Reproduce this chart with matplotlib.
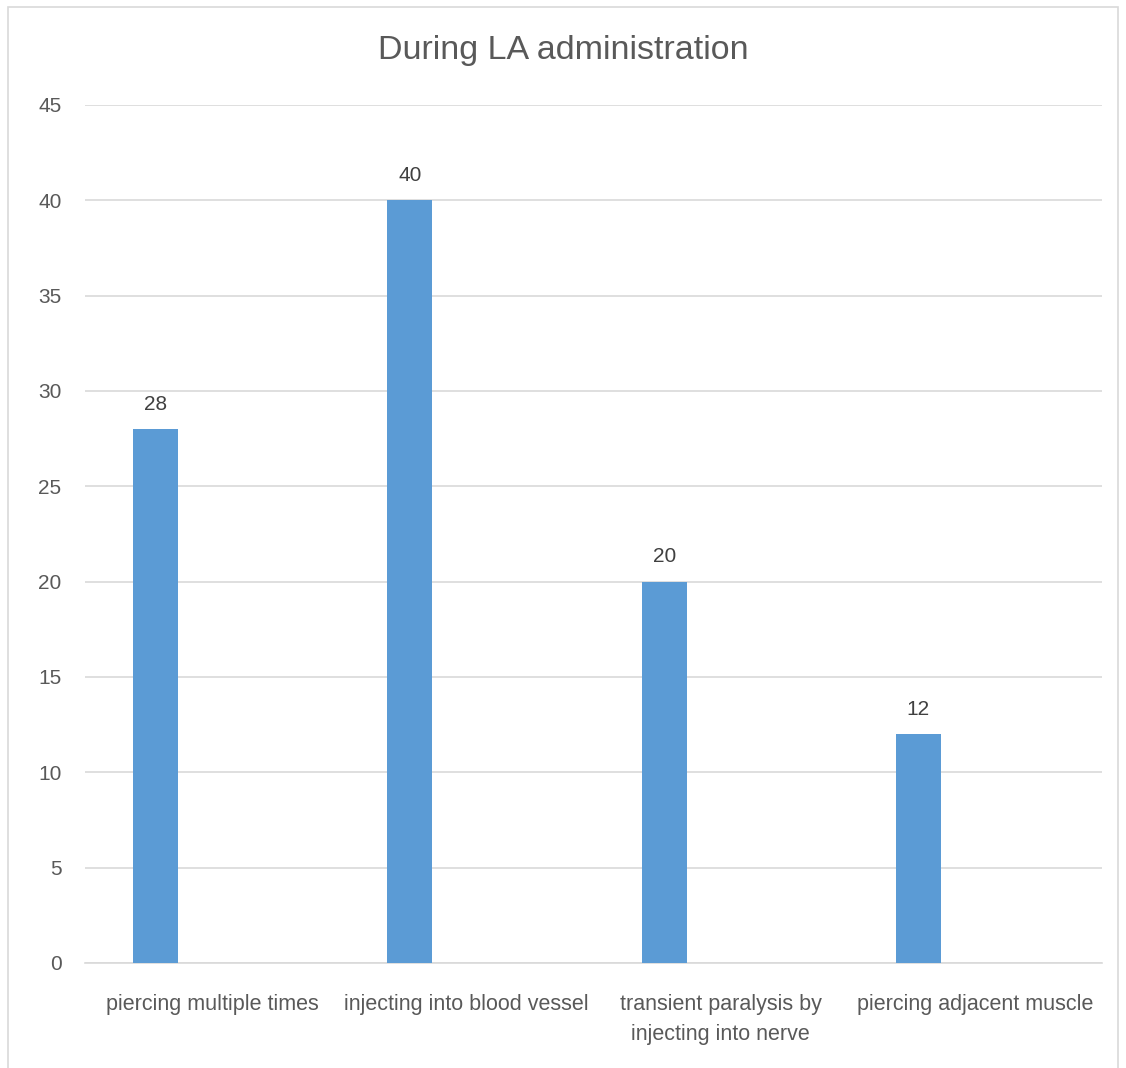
import matplotlib.pyplot as plt
from matplotlib.patches import Rectangle

# data
categories = ["piercing multiple times", "injecting into blood vessel",
              "transient paralysis by\ninjecting into nerve", "piercing adjacent muscle"]
values = [28, 40, 20, 12]
yticks = [0, 5, 10, 15, 20, 25, 30, 35, 40, 45]

plt.rcParams['font.family'] = ['Liberation Sans', 'DejaVu Sans']
TXT = "#595959"

fig = plt.figure(figsize=(11.26, 10.68), dpi=100)
ax = fig.add_axes([85/1126, 1 - 963/1068, (1102-85)/1126, (963-105)/1068])

x = list(range(len(categories)))
xpos = [i - 0.222 for i in x]
bars = ax.bar(xpos, values, width=0.177, color="#5B9BD5", zorder=3)
for b, v in zip(bars, values):
    ax.text(b.get_x() + b.get_width()/2, v + 0.8, str(v), ha="center", va="bottom",
            fontsize=15, color="#404040")

ax.set_xlim(-0.5, len(categories) - 0.5)
ax.set_ylim(0, 45)
ax.set_yticks(yticks)
ax.set_xticks(x)
ax.set_xticklabels(categories, fontsize=15.5, color=TXT, linespacing=1.6)
ax.tick_params(axis="y", labelsize=15, labelcolor=TXT, length=0, pad=17)
ax.tick_params(axis="x", length=0, pad=22)
ax.grid(axis="y", color="#D9D9D9", linewidth=1.2, zorder=0)
for s in ["top", "right", "left"]:
    ax.spines[s].set_visible(False)
ax.spines["bottom"].set_color("#D9D9D9")
ax.spines["bottom"].set_linewidth(1.2)

fig.text(0.5, 1 - 50/1068, "During LA administration", ha="center", va="center",
         fontsize=24.5, color=TXT)

fig.patches.append(Rectangle((8/1126, -0.01), 1110/1126, 1 - 7/1068 + 0.01,
                             transform=fig.transFigure, fill=False,
                             edgecolor="#D9D9D9", linewidth=1.2))

fig.savefig("out.png", dpi=100)
